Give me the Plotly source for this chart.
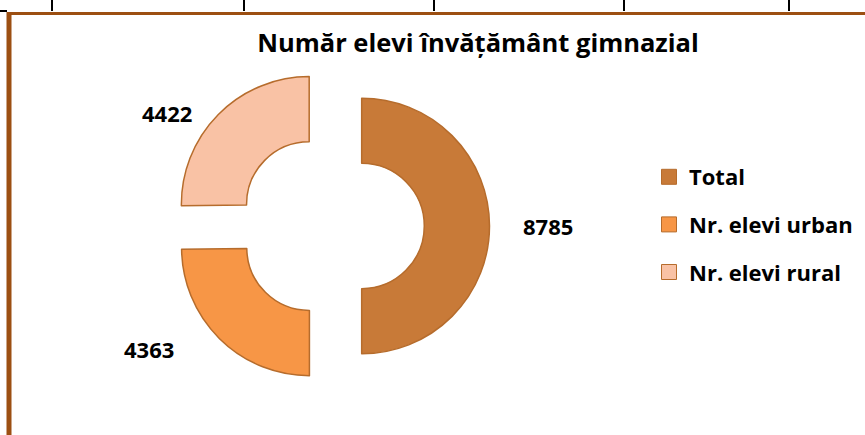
import plotly.graph_objects as go

labels = ["Total", "Nr. elevi urban", "Nr. elevi rural"]
values = [8785, 4363, 4422]
colors = ["#C87A38", "#F79646", "#F9C2A5"]
line_color = "#B66C2C"
title_text = "Număr elevi învățământ gimnazial"
table_col_x = [52, 244, 434, 624, 789]
# label anchor points (px) for the value labels
label_pos = [(548, 226), (149, 349), (167, 113)]

W, H = 865, 435
FONT = "Open Sans"

fig = go.Figure()

fig.add_trace(go.Pie(
    labels=labels, values=values, hole=0.49, sort=False, direction="clockwise",
    rotation=0, pull=[0.24, 0.24, 0.24],
    marker=dict(colors=colors, line=dict(color=line_color, width=1.5)),
    textinfo="none", hoverinfo="label+value",
    domain=dict(x=[172.5 / W, 489.5 / W], y=[1 - 384.5 / H, 1 - 67.5 / H]),
    showlegend=False,
))

# legend entries
for i, (lab, col) in enumerate(zip(labels, colors)):
    fig.add_trace(go.Scatter(
        x=[None], y=[None], mode="markers", name=lab, legendgroup=f"g{i}",
        marker=dict(symbol="square", size=15, color=col, line=dict(color=line_color, width=1)),
    ))

px = lambda x: x / W
py = lambda y: 1 - y / H

annotations = []
for v, (lx, ly) in zip(values, label_pos):
    annotations.append(dict(text=str(v), x=px(lx), y=py(ly), xref="paper", yref="paper",
                            showarrow=False, xanchor="center", yanchor="middle",
                            font=dict(family=FONT, size=22, color="#000000", weight="bold")))

shapes = []
for x in table_col_x:
    shapes.append(dict(type="line", xref="paper", yref="paper", x0=px(x), x1=px(x), y0=py(0), y1=py(11),
                       line=dict(color="black", width=2)))
shapes.append(dict(type="line", xref="paper", yref="paper", x0=px(0), x1=px(7), y0=py(11), y1=py(11),
                   line=dict(color="black", width=2)))
# brown frame
shapes.append(dict(type="line", xref="paper", yref="paper", x0=px(7), x1=px(865), y0=py(13.5), y1=py(13.5),
                   line=dict(color="#9C4F12", width=3)))
shapes.append(dict(type="line", xref="paper", yref="paper", x0=px(9), x1=px(9), y0=py(12), y1=py(435),
                   line=dict(color="#9C4F12", width=5)))

fig.update_layout(
    width=W, height=H, margin=dict(l=0, r=0, t=0, b=0),
    paper_bgcolor="white", plot_bgcolor="white",
    title=dict(text=title_text, x=478 / W, xanchor="center", y=1 - 43 / H, yanchor="middle",
               font=dict(family=FONT, size=25.5, color="#000000", weight="bold")),
    xaxis=dict(visible=False), yaxis=dict(visible=False),
    legend=dict(x=649 / W, y=1 - 156 / H, xanchor="left", yanchor="top", tracegroupgap=16,
                font=dict(family=FONT, size=22, color="#000000", weight="bold"),
                bgcolor="rgba(0,0,0,0)"),
    annotations=annotations,
    shapes=shapes,
)

fig.write_html("out.html", config={"displayModeBar": False},
               post_script="document.body.style.margin='0';")
